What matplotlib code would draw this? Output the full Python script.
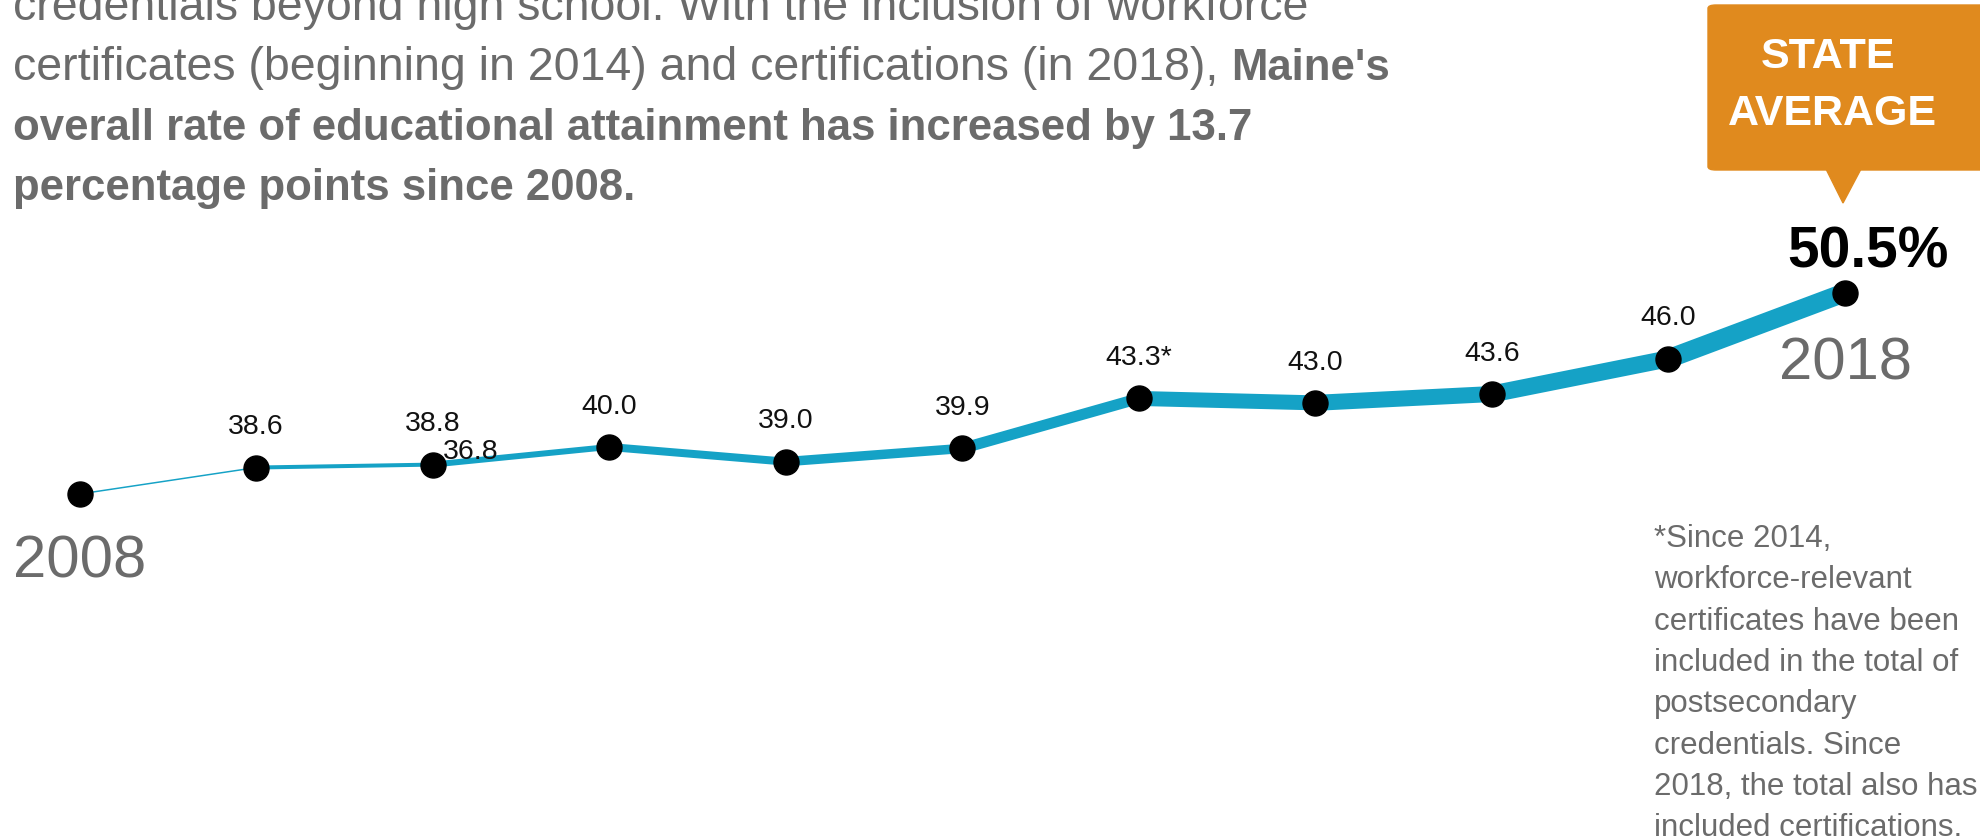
import matplotlib
matplotlib.use("Agg")
import matplotlib.pyplot as plt
from matplotlib.patches import FancyBboxPatch, Polygon

plt.rcParams['font.family'] = ['Liberation Sans', 'DejaVu Sans']

# data
years = [2008, 2009, 2010, 2011, 2012, 2013, 2014, 2015, 2016, 2017, 2018]
values = [36.8, 38.6, 38.8, 40.0, 39.0, 39.9, 43.3, 43.0, 43.6, 46.0, 50.5]
labels = ['', '38.6', '38.8', '40.0', '39.0', '39.9', '43.3*', '43.0', '43.6', '46.0', '']
seg_widths = [1.5, 4, 6, 8, 9.5, 11, 15, 16, 17, 19]   # px, line gets thicker

W, H = 1980, 840
fig = plt.figure(figsize=(W / 100, H / 100), dpi=100)
ax = fig.add_axes([0, 0, 1, 1])
ax.axis('off')

# axis ranges chosen so the points land where they are in the original
px_per_year = 176.5
px_per_unit = 14.7
ax.set_xlim(2008 - 79.6 / px_per_year, 2018 + (W - 1845) / px_per_year)
ax.set_ylim(36.8 - (H - 494) / px_per_unit, 36.8 + 494 / px_per_unit)

teal = '#15a2c6'
gray = '#6b6b6b'
orange = '#e08a1e'

for i in range(len(years) - 1):
    ax.plot(years[i:i + 2], values[i:i + 2], color=teal,
            lw=seg_widths[i] * 0.72, solid_capstyle='round', zorder=2)
ax.plot(years, values, 'o', color='black', ms=18, zorder=3)

for x, y, lab in zip(years, values, labels):
    if lab:
        ax.annotate(lab, (x, y), xytext=(0, 29), textcoords='offset points',
                    ha='center', va='center', fontsize=20.5, color='#111111')

# the 2008 value label sits next to the 2010 point in the original
ax.annotate('36.8', (years[2], values[2]), xytext=(7, 9), textcoords='offset points',
            ha='left', va='center', fontsize=20.5, color='#111111')


def fx(x):
    return x / W


def fy(y):
    return 1 - y / H


# year labels
fig.text(fx(13), fy(578), '2008', fontsize=43, color=gray, ha='left', va='baseline')
fig.text(fx(1845), fy(380), '2018', fontsize=43, color=gray, ha='center', va='baseline')

# big value
fig.text(fx(1868), fy(267), '50.5%', fontsize=41, color='black', weight='bold',
         ha='center', va='baseline')

# callout box
box = FancyBboxPatch((fx(1708), fy(170)), fx(290), 165 / H,
                     boxstyle='round,pad=0,rounding_size=0.004',
                     transform=fig.transFigure, color=orange, zorder=5)
fig.patches.append(box)
tri = Polygon([(fx(1826), fy(169)), (fx(1861), fy(169)), (fx(1843), fy(203))],
              closed=True, transform=fig.transFigure, color=orange, zorder=5)
fig.patches.append(tri)
fig.text(fx(1828), fy(68), 'STATE', fontsize=31, color='white', weight='bold',
         ha='center', va='baseline', zorder=6)
fig.text(fx(1832), fy(125), 'AVERAGE', fontsize=31, color='white', weight='bold',
         ha='center', va='baseline', zorder=6)

# intro paragraph (first line is cut off by the frame, as in the original)
fs_norm = 33.5
fs_bold = 31.5
fig.text(fx(13), fy(20), 'credentials beyond high school. With the inclusion of workforce',
         fontsize=fs_norm, color=gray, ha='left', va='baseline')
t2 = fig.text(fx(13), fy(80), 'certificates (beginning in 2014) and certifications (in 2018), ',
              fontsize=fs_norm, color=gray, ha='left', va='baseline')
renderer = fig.canvas.get_renderer()
bb = t2.get_window_extent(renderer)
fig.text(bb.x1 / W, fy(80), "Maine's", fontsize=fs_bold, color=gray, weight='bold',
         ha='left', va='baseline')
fig.text(fx(13), fy(140), 'overall rate of educational attainment has increased by 13.7',
         fontsize=fs_bold, color=gray, weight='bold', ha='left', va='baseline')
fig.text(fx(13), fy(200), 'percentage points since 2008.',
         fontsize=fs_bold, color=gray, weight='bold', ha='left', va='baseline')

# footnote
note = ['*Since 2014,', 'workforce-relevant', 'certificates have been',
        'included in the total of', 'postsecondary', 'credentials. Since',
        '2018, the total also has', 'included certifications.']
for k, line in enumerate(note):
    fig.text(fx(1654), fy(547 + 41.3 * k), line, fontsize=22.5, color=gray,
             ha='left', va='baseline')

fig.savefig('out.png', dpi=100)
